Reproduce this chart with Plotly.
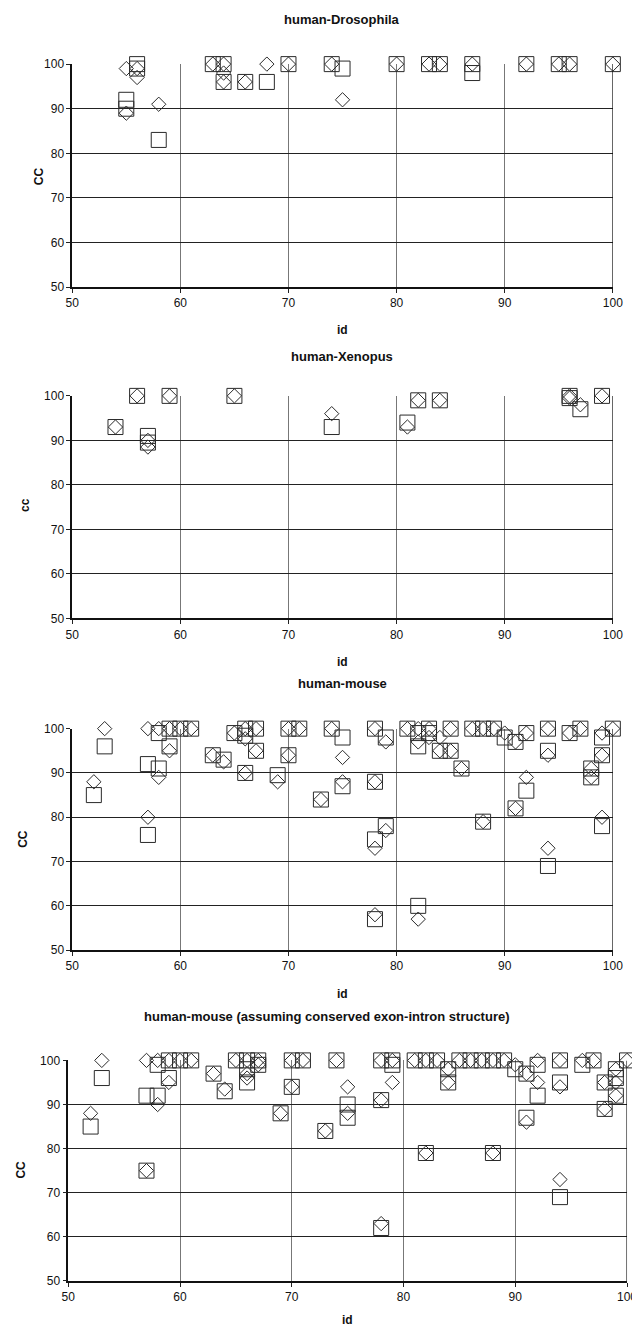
import plotly.graph_objects as go

# figure size; page has an 8px body margin
W, H = 632, 1318
# measured placement of plotly's "paper" area on the page
PX0, PW = 10.0, W - 12.0
PY0, PH = 16.0, H - 17.0

# ---------------- data ----------------
titles = ["human-Drosophila", "human-Xenopus", "human-mouse",
          "human-mouse (assuming conserved exon-intron structure)"]
ytitles = ["CC", "cc", "CC", "CC"]
xticks = [50, 60, 70, 80, 90, 100]
yticks = [50, 60, 70, 80, 90, 100]

# panel 1: human-Drosophila
p1_dia_x = [55, 55, 56, 56, 58, 63, 64, 64, 64, 66, 68, 70, 74, 75, 80, 83, 84, 87, 92, 95, 96, 100]
p1_dia_y = [99, 89, 99, 97, 91, 100, 100, 98, 96, 96, 100, 100, 100, 92, 100, 100, 100, 100, 100, 100, 100, 100]
p1_sq_x = [55, 55, 56, 56, 58, 63, 64, 64, 66, 68, 70, 74, 75, 80, 83, 84, 87, 87, 92, 95, 96, 100]
p1_sq_y = [92, 90, 100, 99, 83, 100, 100, 96, 96, 96, 100, 100, 99, 100, 100, 100, 100, 98, 100, 100, 100, 100]

# panel 2: human-Xenopus
p2_dia_x = [54, 56, 57, 57, 59, 65, 74, 81, 82, 84, 96, 96, 97, 99]
p2_dia_y = [93, 100, 90, 88.5, 100, 100, 96, 93, 99, 99, 100, 99.5, 98, 100]
p2_sq_x = [54, 56, 57, 57, 59, 65, 74, 81, 82, 84, 96, 96, 97, 99]
p2_sq_y = [93, 100, 91, 89.5, 100, 100, 93, 94, 99, 99, 100, 99.5, 97, 100]

# panel 3: human-mouse
p3_dia_x = [52, 53, 57, 57, 58, 58, 59, 59, 60, 61, 63, 64, 65, 66, 66, 66, 67, 67, 69, 70, 70,
            71, 73, 74, 75, 75, 78, 78, 78, 78, 79, 79, 81, 82, 82, 82, 83, 83, 84, 84, 85, 85, 86,
            87, 88, 88, 89, 90, 91, 91, 92, 92, 94, 94, 94, 96, 97, 98, 98, 99, 99, 99, 100]
p3_dia_y = [88, 100, 100, 80, 100, 89, 100, 95, 100, 100, 94, 92.5, 99, 100, 97.7, 90, 100, 95, 88, 100, 94,
            100, 84, 100, 93.5, 88, 100, 88, 73, 58, 97, 77, 100, 100, 97, 57, 100, 98, 98, 95, 100, 95, 91,
            100, 100, 79, 100, 99, 97, 82, 99, 89, 100, 94, 73, 99, 100, 91, 89, 99, 94, 80, 100]
p3_sq_x = [52, 53, 57, 57, 58, 58, 59, 59, 60, 61, 63, 64, 65, 66, 66, 66, 67, 67, 69, 70, 70,
           71, 73, 74, 75, 75, 78, 78, 78, 78, 79, 79, 81, 82, 82, 82, 83, 83, 84, 85, 85, 86,
           87, 88, 88, 89, 90, 91, 91, 92, 92, 94, 94, 94, 96, 97, 98, 98, 99, 99, 99, 100]
p3_sq_y = [85, 96, 92, 76, 99, 91, 100, 96, 100, 100, 94, 93, 99, 100, 98.4, 90, 100, 95, 89.5, 100, 94,
           100, 84, 100, 98, 87, 100, 88, 75, 57, 98, 78, 100, 99, 96, 60, 100, 99, 95, 100, 95, 91,
           100, 100, 79, 100, 98, 97, 82, 99, 86, 100, 95, 69, 99, 100, 91, 89, 98, 94, 78, 100]

# panel 4: human-mouse (assuming conserved exon-intron structure)
p4_dia_x = [52, 53, 57, 57, 58, 58, 59, 59, 60, 61, 63, 64, 65, 66, 66, 66, 67, 67, 69, 70, 70,
            71, 73, 74, 75, 75, 78, 78, 78, 79, 79, 81, 82, 82, 83, 84, 84, 85, 86, 87, 88, 88,
            89, 90, 91, 91, 92, 92, 94, 94, 94, 96, 97, 98, 98, 99, 99, 99, 100]
p4_dia_y = [88, 100, 100, 75, 100, 90, 100, 95, 100, 100, 97, 93.5, 100, 100, 97, 96, 100, 99, 88, 100, 94,
            100, 84, 100, 94, 88, 100, 91, 63, 100, 95, 100, 100, 79, 100, 98, 95, 100, 100, 100, 100, 79,
            100, 99, 97, 86, 100, 95, 100, 94, 73, 100, 100, 95, 89, 98, 95, 92, 100]
p4_sq_x = [52, 53, 57, 57, 58, 58, 59, 59, 60, 61, 63, 64, 65, 66, 66, 66, 67, 67, 69, 70, 70,
           71, 73, 74, 75, 75, 78, 78, 78, 79, 79, 81, 82, 82, 83, 84, 84, 85, 86, 87, 88, 88,
           89, 90, 91, 91, 92, 92, 94, 94, 94, 96, 97, 98, 98, 99, 99, 99, 100]
p4_sq_y = [85, 96, 92, 75, 99, 92, 100, 96, 100, 100, 97, 93, 100, 100, 98, 95, 100, 99, 88, 100, 94,
           100, 84, 100, 90, 87, 100, 91, 62, 100, 99, 100, 100, 79, 100, 98, 95, 100, 100, 100, 100, 79,
           100, 98, 97, 87, 99, 92, 100, 95, 69, 99, 100, 95, 89, 98, 96, 92, 100]

panels = [
    (p1_dia_x, p1_dia_y, p1_sq_x, p1_sq_y),
    (p2_dia_x, p2_dia_y, p2_sq_x, p2_sq_y),
    (p3_dia_x, p3_dia_y, p3_sq_x, p3_sq_y),
    (p4_dia_x, p4_dia_y, p4_sq_x, p4_sq_y),
]

# ---------------- layout (page pixel boxes) ----------------
boxes = [  # x0, x1, ytop, ybottom in page pixels
    (67.7, 612.7, 65, 287.5),
    (67.7, 612.7, 396, 618),
    (67.7, 612.7, 728, 949),
    (63.7, 627.0, 1059, 1279),
]
title_pos = [(340, 20), (340, 357), (340, 683), (325, 1015)]
ytitle_pos = [(35, 177), (20, 505), (18, 838), (16, 1168)]
xtitle_pos = [(340, 330), (340, 662), (340, 993), (345, 1318)]

def px(x):
    return (x - PX0) / PW

def py(y):
    return 1 - (y - PY0) / PH

FONT = "Liberation Sans, Arial, sans-serif"
MK = "#2a2a2a"

fig = go.Figure()
layout = dict(
    width=W, height=H, margin=dict(l=0, r=0, t=0, b=0),
    paper_bgcolor="white", plot_bgcolor="white", showlegend=False,
    font=dict(family=FONT, size=12, color="#111"),
)
annotations = []
shapes = []

for i, ((dx, dy, sx, sy), (x0, x1, yt, yb)) in enumerate(zip(panels, boxes)):
    n = "" if i == 0 else str(i + 1)
    xa, ya = "x" + n, "y" + n
    fig.add_trace(go.Scatter(
        x=sx, y=sy, mode="markers", xaxis=xa, yaxis=ya, cliponaxis=False,
        marker=dict(symbol="square-open", size=15, color=MK, line=dict(width=1, color=MK)),
    ))
    fig.add_trace(go.Scatter(
        x=dx, y=dy, mode="markers", xaxis=xa, yaxis=ya, cliponaxis=False,
        marker=dict(symbol="diamond-open", size=11, color=MK, line=dict(width=1, color=MK)),
    ))
    layout["xaxis" + n] = dict(
        domain=[max(0, px(x0)), min(1, px(x1))], range=[50, 100], anchor=ya,
        tickvals=xticks, ticks="outside", ticklen=4, tickcolor="#222",
        showgrid=True, gridcolor="#777", gridwidth=1,
        showline=True, linecolor="#111", linewidth=1.5, mirror=False,
        zeroline=False, fixedrange=True,
        tickfont=dict(family=FONT, size=12, color="#111"),
    )
    layout["yaxis" + n] = dict(
        domain=[max(0, py(yb)), min(1, py(yt))], range=[50, 100], anchor=xa,
        tickvals=yticks, ticks="outside", ticklen=4, tickcolor="#222",
        showgrid=True, gridcolor="#222", gridwidth=1,
        showline=True, linecolor="#111", linewidth=1.5,
        zeroline=False, fixedrange=True,
        tickfont=dict(family=FONT, size=12, color="#111"),
    )
    tx, ty = title_pos[i]
    annotations.append(dict(text="<b>" + titles[i] + "</b>", x=px(tx), y=py(ty),
                            xref="paper", yref="paper", showarrow=False,
                            xanchor="center", yanchor="middle",
                            font=dict(family=FONT, size=13, color="#111")))
    ax_, ay_ = ytitle_pos[i]
    annotations.append(dict(text="<b>" + ytitles[i] + "</b>", x=px(ax_), y=py(ay_),
                            xref="paper", yref="paper", showarrow=False,
                            xanchor="center", yanchor="middle", textangle=-90,
                            font=dict(family=FONT, size=12, color="#111")))
    bx, by = xtitle_pos[i]
    annotations.append(dict(text="<b>id</b>", x=px(bx), y=py(by),
                            xref="paper", yref="paper", showarrow=False,
                            xanchor="center", yanchor="middle",
                            font=dict(family=FONT, size=12, color="#111")))
    shapes.append(dict(
        type="line", xref=xa, yref=ya, x0=100, x1=100, y0=50, y1=100,
        line=dict(color="#111", width=1.2)))

layout["annotations"] = annotations
layout["shapes"] = shapes
fig.update_layout(**layout)
fig.write_html("out.html")
